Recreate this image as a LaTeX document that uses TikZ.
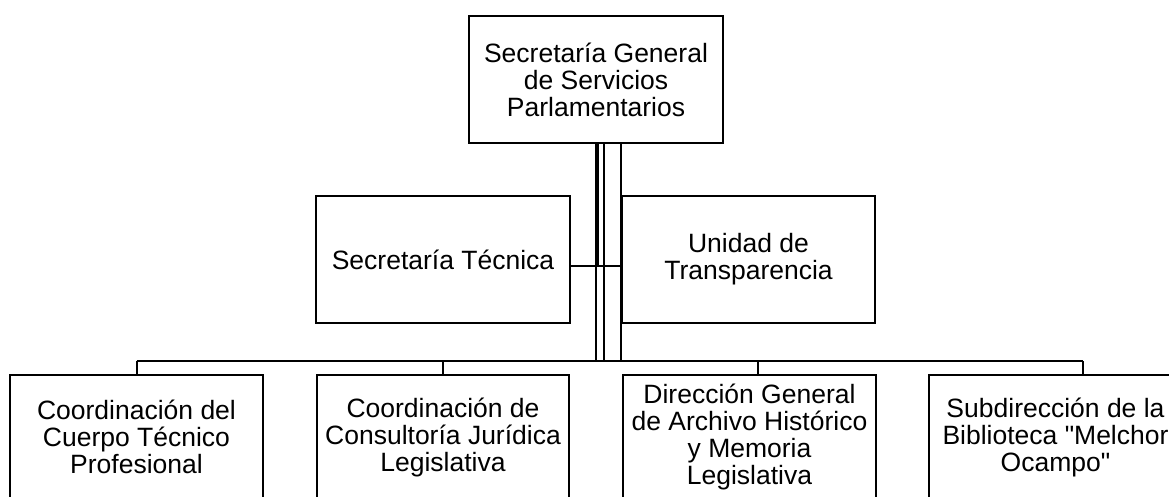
\documentclass[tikz,border=0pt]{standalone}
\usepackage{fontspec}
\setmainfont{Liberation Sans}
\begin{document}
\begin{tikzpicture}[
    x=1pt, y=-1pt,
    unit/.style={draw, line width=2, minimum width=254, minimum height=127,
      inner sep=0, align=center, font=\fontsize{26.5}{27}\selectfont},
    leaf/.style={unit, minimum height=124},
    link/.style={line width=2}
]

\clip (0,0) rectangle (1169,497);

\node[unit] (sgsp) at (596,79.5) {Secretaría General\\de Servicios\\Parlamentarios};

\node[unit] (st) at (443,259.5) {Secretaría Técnica};
\node[unit, minimum width=253] (ut) at (748.5,259.5) {Unidad de\\Transparencia};

\node[leaf, minimum width=253] (cctp) at (136.5,437) {Coordinación del\\Cuerpo Técnico\\Profesional};
\node[leaf, minimum width=252] (ccjl) at (443,437) {Coordinación de\\Consultoría Jurídica\\Legislativa};
\node[leaf, minimum width=253] (dgah) at (749.5,437) {Dirección General\\de Archivo Histórico\\y Memoria\\Legislativa};
\node[leaf, minimum width=253] (sbmo) at (1055.5,437) {Subdirección de la\\Biblioteca \textquotedbl Melchor\\Ocampo\textquotedbl};

\coordinate (tee) at (0,266);
\coordinate (bus) at (0,361);

\draw[link] (sgsp.south) -- (sgsp.south |- bus);
\draw[link] ([xshift=2]sgsp.south) |- (st.east |- tee);
\draw[link] ([xshift=8]sgsp.south) -- ([xshift=8]sgsp.south |- bus);
\draw[link] (ut.west |- sgsp.south) -- (ut.west |- bus);
\draw[link] (st.east |- tee) -- (ut.west |- tee);

\draw[link] (cctp.north |- bus) -- ([xshift=27.5]sbmo.north |- bus);
\foreach \n/\s in {cctp/0,ccjl/0,dgah/8.5,sbmo/27.5}{
  \draw[link] ([xshift=\s]\n.north) -- ([xshift=\s]\n.north |- bus);
}

\end{tikzpicture}
\end{document}
